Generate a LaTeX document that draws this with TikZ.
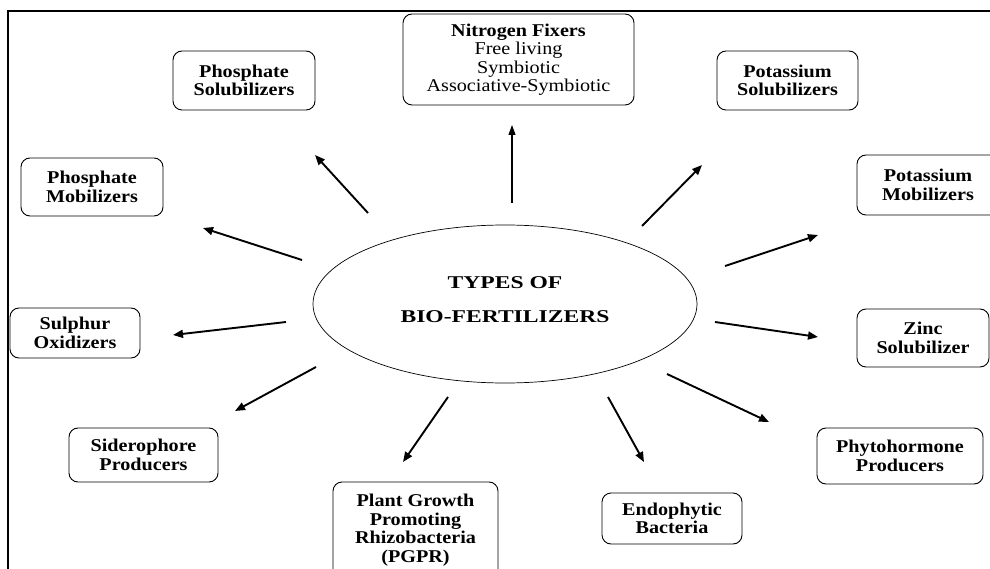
\documentclass[tikz,border=0pt]{standalone}
\usepackage{fontspec}
\setmainfont[FakeStretch=1.12]{Liberation Serif}
\newfontfamily\titlefont[FakeStretch=1.31]{Liberation Serif}
\usetikzlibrary{arrows.meta,shapes.geometric}
\begin{document}
\begin{tikzpicture}[x=1pt,y=-1pt,
  box/.style={draw,rounded corners=9pt,line width=0.9pt,inner sep=0pt,align=center,
    font=\fontsize{18}{18.5}\selectfont\bfseries},
  nbox/.style={box,font=\fontsize{18}{18.5}\selectfont},
  arr/.style={line width=1.9pt,-{Triangle[length=10pt,width=8pt]}},
  thinarr/.style={line width=1.2pt,-{Triangle[length=10pt,width=7pt]}},
]
\useasboundingbox (0,0) rectangle (990,569);
\clip (0,0) rectangle (990,569);
% frame
\draw[line width=1.6pt] (8,575) -- (8,11) -- (995,11);

% centre
\node[draw,ellipse,line width=0.7pt,minimum width=384pt,minimum height=158pt,inner sep=0pt] (c) at (505,304) {};
\node[align=center,inner sep=0pt,font=\fontsize{18}{34}\selectfont\titlefont\bfseries] (title) at (505,300) {TYPES OF\\BIO-FERTILIZERS};

% boxes
\node[box,minimum width=142pt,minimum height=59pt] (ps) at (244,80.5) {Phosphate\\Solubilizers};
\node[nbox,minimum width=231pt,minimum height=91pt] (nf) at (518.5,59.5) {\textbf{Nitrogen Fixers}\\Free living\\Symbiotic\\Associative-Symbiotic};
\node[box,minimum width=141pt,minimum height=59pt] (ks) at (787.5,80.5) {Potassium\\Solubilizers};
\node[box,minimum width=142pt,minimum height=58pt] (pm) at (92,187) {Phosphate\\Mobilizers};
\node[box,minimum width=142pt,minimum height=60pt] (km) at (928,185) {Potassium\\Mobilizers};
\node[box,minimum width=130pt,minimum height=50pt] (so) at (75,333) {Sulphur\\Oxidizers};
\node[box,minimum width=132pt,minimum height=58pt] (zs) at (923,338) {Zinc\\Solubilizer};
\node[box,minimum width=149pt,minimum height=54pt] (sp) at (143.5,455) {Siderophore\\Producers};
\node[box,minimum width=165pt,minimum height=96pt] (pg) at (415.5,530) {Plant Growth\\Promoting\\Rhizobacteria\\(PGPR)};
\node[box,minimum width=140pt,minimum height=51pt] (eb) at (672,518.5) {Endophytic\\Bacteria};
\node[box,minimum width=166pt,minimum height=56pt] (ph) at (900,456) {Phytohormone\\Producers};

% arrow ends
\coordinate (s1) at (368,213); \coordinate (e1) at (315,155);
\coordinate (s2) at (302,260); \coordinate (e2) at (203,228);
\coordinate (s3) at (512,203); \coordinate (e3) at (512,125);
\coordinate (s4) at (642,226); \coordinate (e4) at (702,165);
\coordinate (s5) at (725,266); \coordinate (e5) at (818,235);
\coordinate (s6) at (286,322); \coordinate (e6) at (173,335);
\coordinate (s7) at (316,367); \coordinate (e7) at (235,411);
\coordinate (s8) at (448,397); \coordinate (e8) at (403,462);
\coordinate (s9) at (608,397); \coordinate (e9) at (644,462);
\coordinate (s10) at (667,374); \coordinate (e10) at (769,422);
\coordinate (s11) at (715,322); \coordinate (e11) at (818,337);

\draw[arr] (s1) -- (e1);
\draw[arr] (s2) -- (e2);
\draw[thinarr] (s3) -- (e3);
\draw[arr] (s4) -- (e4);
\draw[arr] (s5) -- (e5);
\draw[arr] (s6) -- (e6);
\draw[arr] (s7) -- (e7);
\draw[arr] (s8) -- (e8);
\draw[arr] (s9) -- (e9);
\draw[arr] (s10) -- (e10);
\draw[arr] (s11) -- (e11);
\end{tikzpicture}
\end{document}
